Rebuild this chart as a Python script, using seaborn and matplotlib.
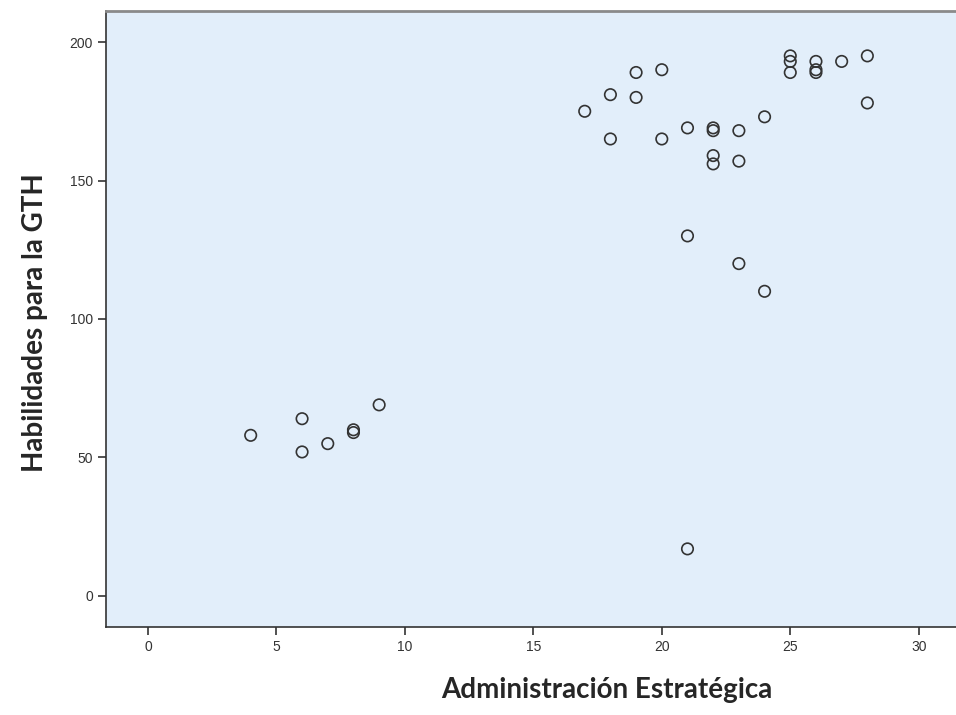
import matplotlib
matplotlib.use("Agg")
import matplotlib.pyplot as plt
import seaborn as sns
import pandas as pd

# Administración Estratégica (x) vs Habilidades para la GTH (y)
admin_estrategica = [4, 6, 6, 7, 8, 8, 9,
                     17, 18, 18, 19, 19, 20, 20,
                     21, 21, 21,
                     22, 22, 22, 22,
                     23, 23, 23, 24, 24,
                     25, 25, 25, 26, 26, 26, 27, 28, 28]
habilidades_gth = [58, 64, 52, 55, 60, 59, 69,
                   175, 181, 165, 189, 180, 190, 165,
                   169, 130, 17,
                   169, 168, 159, 156,
                   168, 157, 120, 173, 110,
                   195, 193, 189, 193, 190, 189, 193, 195, 178]

xticks = [0, 5, 10, 15, 20, 25, 30]
yticks = [0, 50, 100, 150, 200]

df = pd.DataFrame({"x": admin_estrategica, "y": habilidades_gth})

sns.set_style("ticks")
fig = plt.figure(figsize=(9.56, 7.15), dpi=100)
ax = fig.add_axes([0.1109, 0.1231, 0.8891, 0.8615])
ax.set_facecolor("#E2EEFA")

sns.scatterplot(data=df, x="x", y="y", ax=ax, marker="o", s=68,
                facecolor="none", edgecolor="#333333", linewidth=1.2)
for c in ax.collections:
    c.set_facecolor("none")

ax.set_xlim(-1.63, 31.45)
ax.set_ylim(-11.2, 211.2)
ax.set_xticks(xticks)
ax.set_yticks(yticks)
ax.tick_params(axis="both", direction="out", length=6, width=1.2,
               color="#333333", labelsize=10, labelcolor="#333333")
for lbl in ax.get_xticklabels() + ax.get_yticklabels():
    lbl.set_fontfamily("Liberation Sans")
for s in ["left", "bottom"]:
    ax.spines[s].set_color("#333333")
    ax.spines[s].set_linewidth(1.2)
ax.spines["top"].set_color("#8a8a8a")
ax.spines["top"].set_linewidth(2)
ax.spines["right"].set_visible(False)

ax.set_xlabel("Administración Estratégica", fontfamily="Lato",
              fontweight="bold", fontsize=20, va="center")
ax.set_ylabel("Habilidades para la GTH", fontfamily="Lato",
              fontweight="bold", fontsize=20, va="center")
ax.xaxis.set_label_coords(0.589, -0.102)
ax.yaxis.set_label_coords(-0.083, 0.494)

fig.savefig("out.png", dpi=100)
